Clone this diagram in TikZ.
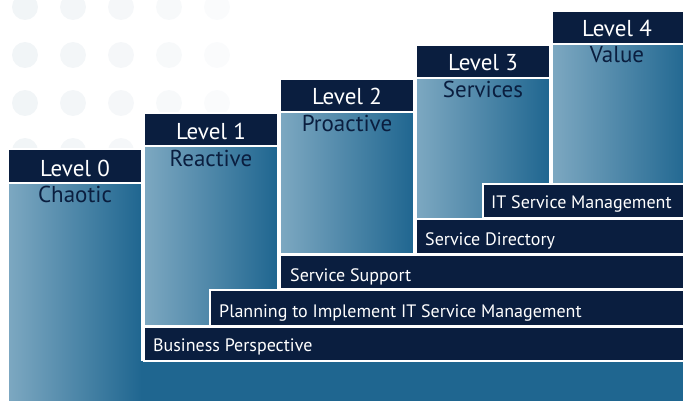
\documentclass[tikz,border=0pt]{standalone}
\usepackage{fontspec}
\setmainfont{PT Sans}
\definecolor{navy}{HTML}{0A1E3F}
\definecolor{steellight}{HTML}{7DA8C1}
\definecolor{steeldark}{HTML}{1F6690}
\definecolor{dotgrey}{HTML}{EEF2F5}
\tikzset{
  column/.style={draw=white, line width=1.5pt, left color=steellight, right color=steeldark},
  header/.style={draw=white, line width=1.5pt, fill=navy},
  bar/.style={draw=white, line width=1.5pt, fill=navy},
  leveltext/.style={text=white, font=\fontsize{23}{23}\selectfont, anchor=base, inner sep=0pt},
  subtext/.style={text=navy, font=\fontsize{23}{23}\selectfont, anchor=base, inner sep=0pt},
  bartext/.style={text=white, font=\fontsize{18}{18}\selectfont, anchor=base west, inner sep=0pt}
}
\begin{document}
\begin{tikzpicture}[x=1pt, y=-1pt]
   \useasboundingbox (0,0) rectangle (683,401);
   % faint dots
   \foreach \i/\op in {0/0.8, 1/0.7, 2/0.6, 3/0.45, 4/0.3}
     \foreach \j in {0,1,2,3}
       \fill[dotgrey, opacity=\op] (25+48*\i, 7+48*\j) circle (13);
   % columns
   \draw[column] (8,183)   rectangle (142,405);
   \draw[column] (144,146) rectangle (278,326);
   \draw[column] (280,112) rectangle (414,254);
   \draw[column] (416,78)  rectangle (550,219);
   \draw[column] (552,44)  rectangle (690,184);
   % bottom strip
   \fill[steeldark] (141,361) rectangle (690,405);
   % headers
   \draw[header] (8,149)   rectangle (142,183);
   \draw[header] (144,113) rectangle (278,146);
   \draw[header] (280,79)  rectangle (414,112);
   \draw[header] (416,45)  rectangle (550,78);
   \draw[header] (552,11)  rectangle (690,44);
   % bars
   \draw[bar] (483,184) rectangle (690,218);
   \draw[bar] (416,219) rectangle (690,254);
   \draw[bar] (280,255) rectangle (690,289);
   \draw[bar] (210,290) rectangle (690,326);
   \draw[bar] (144,327) rectangle (690,361);
   % level texts
   \node[leveltext] (lev0) at (75,176)  {Level 0};
   \node[leveltext] (lev1) at (211,140) {Level 1};
   \node[leveltext] (lev2) at (347,105) {Level 2};
   \node[leveltext] (lev3) at (483,71)  {Level 3};
   \node[leveltext] (lev4) at (617,37)  {Level 4};
   \node[subtext] (chaotic)   at (75,203)  {Chaotic};
   \node[subtext] (reactive)  at (211,167) {Reactive};
   \node[subtext] (proactive) at (347,132) {Proactive};
   \node[subtext] (services)  at (483,98)  {Services};
   \node[subtext] (value)     at (617,63)  {Value};
   % bar texts
   \node[bartext] (itsm)      at (491,208) {IT Service Management};
   \node[bartext] (directory) at (425,245) {Service Directory};
   \node[bartext] (support)   at (290,281) {Service Support};
   \node[bartext] (planning)  at (219,317) {Planning to Implement IT Service Management};
   \node[bartext] (business)  at (153,351) {Business Perspective};
 \end{tikzpicture}
\end{document}
